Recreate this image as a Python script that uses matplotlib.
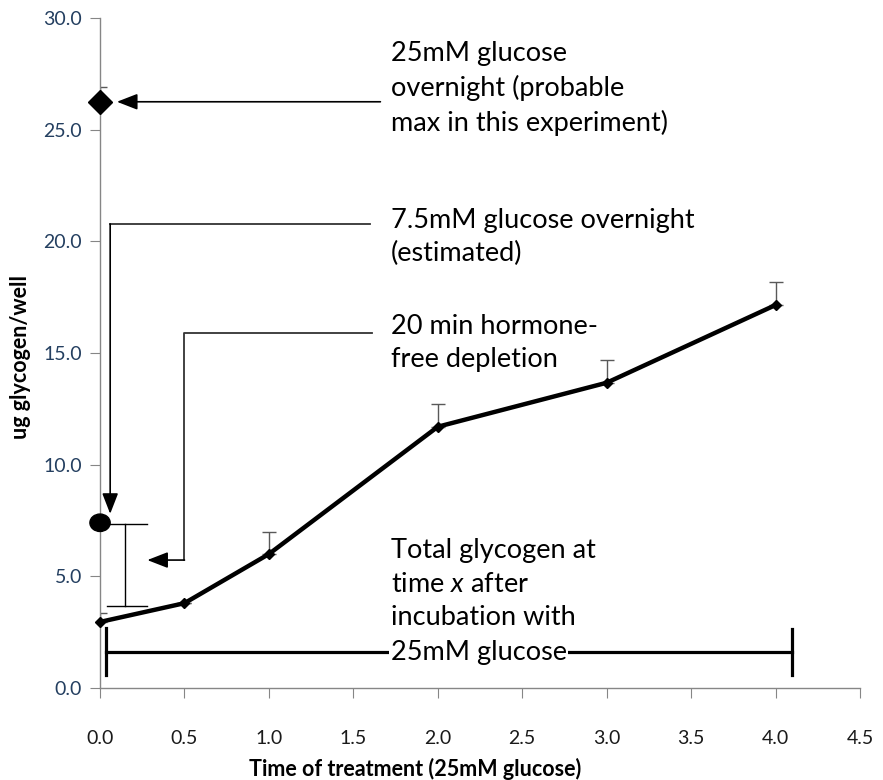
import matplotlib
matplotlib.use("Agg")
import matplotlib.pyplot as plt
from matplotlib.patches import Ellipse

# time course (25mM glucose), mean and upper error
time_h = [0.0, 0.5, 1.0, 2.0, 3.0, 4.0]
glycogen = [2.96, 3.8, 6.0, 11.7, 13.67, 17.15]
glycogen_err = [0.4, 0.0, 1.0, 1.0, 1.0, 1.05]

# overnight references at t=0
max_overnight = 26.25
max_overnight_err = 0.65
est_overnight = 7.4

# depletion bracket (20 min hormone-free)
depletion_top = 7.35
depletion_bottom = 3.67

x_ticks = [0.0, 0.5, 1.0, 1.5, 2.0, 2.5, 3.0, 3.5, 4.0, 4.5]
y_ticks = [0.0, 5.0, 10.0, 15.0, 20.0, 25.0, 30.0]

labels = [
    "25mM glucose\novernight (probable\nmax in this experiment)",
    "7.5mM glucose overnight\n(estimated)",
    "20 min hormone-\nfree depletion",
    "Total glycogen at\ntime $x$ after\nincubation with",
    "25mM glucose",
]

plt.rcParams["font.family"] = ["Lato", "DejaVu Sans"]
plt.rcParams["mathtext.fontset"] = "custom"
plt.rcParams["mathtext.it"] = "Lato:italic"
plt.rcParams["mathtext.rm"] = "Lato"

fig = plt.figure(figsize=(8.83, 7.80), dpi=100)
ax = fig.add_axes([0.1133, 0.1179, 0.974 - 0.1133, 0.9769 - 0.1179])

ax.set_xlim(0, 4.5)
ax.set_ylim(0, 30)
for s in ("top", "right"):
    ax.spines[s].set_visible(False)
for s in ("left", "bottom"):
    ax.spines[s].set_color("#868686")
    ax.spines[s].set_linewidth(1.0)

ax.set_xticks(x_ticks)
ax.set_xticklabels([f"{v:.1f}" for v in x_ticks])
ax.set_yticks(y_ticks)
ax.set_yticklabels([f"{v:.1f}" for v in y_ticks])
ax.tick_params(axis="x", direction="out", length=7, color="#868686",
               pad=23, labelsize=14, labelcolor="#1a1a1a")
ax.tick_params(axis="y", direction="out", length=7, color="#868686",
               pad=6, labelsize=14, labelcolor="#243f60")

err_style = dict(ecolor="#595959", elinewidth=1.0, capthick=1.0, capsize=5)

# main time course
ax.errorbar(time_h, glycogen, yerr=[[0] * len(glycogen_err), glycogen_err],
            fmt="none", zorder=2, **err_style)
ax.plot(time_h, glycogen, color="black", lw=3.2, marker="D", ms=5,
        zorder=3, clip_on=False)

# overnight max
ax.errorbar([0], [max_overnight], yerr=[[0], [max_overnight_err]],
            fmt="none", zorder=2, **err_style)
ax.plot([0], [max_overnight], marker="D", color="black", ms=12.5,
        zorder=4, clip_on=False)

# overnight 7.5mM estimate
ax.add_patch(Ellipse((0, est_overnight), width=0.12, height=0.78,
                     color="black", zorder=4, clip_on=False))

# depletion bracket
ax.plot([0.15, 0.15], [depletion_bottom, depletion_top], color="black", lw=1.0)
ax.plot([0.04, 0.28], [depletion_top, depletion_top], color="black", lw=1.0)
ax.plot([0.04, 0.28], [depletion_bottom, depletion_bottom], color="black", lw=1.0)

# arrows
arrow_kw = dict(arrowstyle="-|>,head_length=0.9,head_width=0.35",
                color="black", lw=1.2, shrinkA=0, shrinkB=0, mutation_scale=14)
line_kw = dict(color="#333333", lw=1.3)

ax.annotate("", xy=(0.1, max_overnight), xytext=(1.66, max_overnight),
            arrowprops=arrow_kw)

ax.plot([1.6, 0.06], [20.78, 20.78], **line_kw)
ax.annotate("", xy=(0.06, 7.8), xytext=(0.06, 20.78), arrowprops=arrow_kw)

ax.plot([1.61, 0.5, 0.5], [15.9, 15.9, 5.73], **line_kw)
ax.annotate("", xy=(0.28, 5.73), xytext=(0.5, 5.73), arrowprops=arrow_kw)

# bottom bracket for the time course
ax.plot([0.034, 4.1], [1.61, 1.61], color="black", lw=2.3)
ax.plot([0.034, 0.034], [0.58, 2.69], color="black", lw=2.3)
ax.plot([4.1, 4.1], [0.58, 2.64], color="black", lw=2.3)

txt_kw = dict(fontsize=19.5, ha="left", va="top", linespacing=1.42, color="black")
ax.text(1.72, 28.95, labels[0], **txt_kw)
ax.text(1.72, 21.5, labels[1], **txt_kw)
ax.text(1.72, 16.75, labels[2], **txt_kw)
ax.text(1.72, 6.7, labels[3], **txt_kw)
ax.text(1.72, 1.61, labels[4], fontsize=19.5, ha="left", va="center",
        bbox=dict(facecolor="white", edgecolor="none", pad=1), zorder=5)

fig.text(415 / 883, 1 - 769 / 780, "Time of treatment (25mM glucose)",
         ha="center", va="center", fontsize=15.5, fontweight="bold")
fig.text(21 / 883, 1 - 357 / 780, "ug glycogen/well", rotation=90,
         ha="center", va="center", fontsize=15.5, fontweight="bold")

fig.savefig("out.png", dpi=100)
